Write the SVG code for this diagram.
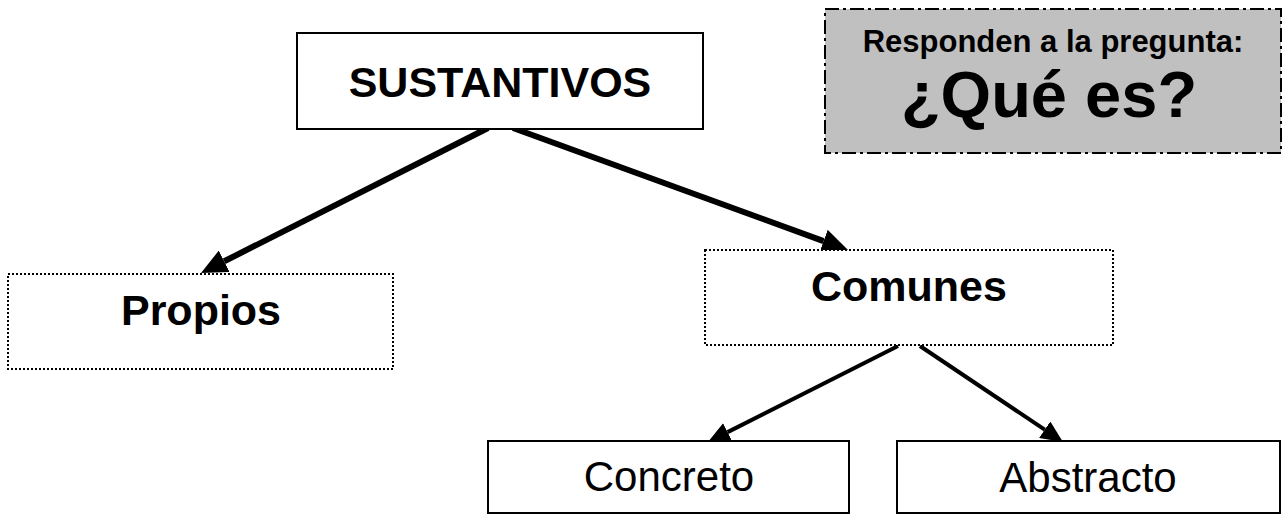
<svg xmlns="http://www.w3.org/2000/svg" width="1288" height="517" viewBox="0 0 1288 517">
<style>
.solid{fill:#fff;stroke:#000;stroke-width:2}
.dotted{fill:#fff;stroke:#000;stroke-width:2;stroke-dasharray:2 2}
.gray{fill:#c0c0c0;stroke:#000;stroke-width:2;stroke-dasharray:14 4 3 4}
.b{font-family:"Liberation Sans",Arial,sans-serif;font-weight:bold;text-anchor:middle;fill:#000}
.r{font-family:"Liberation Sans",Arial,sans-serif;text-anchor:middle;fill:#000}
.thick{stroke:#000;stroke-width:6;fill:none}
.thin{stroke:#000;stroke-width:4;fill:none}
</style>
<defs>
<marker id="headBig" markerUnits="userSpaceOnUse" viewBox="0 -12 26 24" markerWidth="26" markerHeight="24" refX="0" refY="0" orient="auto">
<path d="M0,-12 L26,0 L0,12 z" fill="#000"/>
</marker>
<marker id="headSmall" markerUnits="userSpaceOnUse" viewBox="0 -10 22 20" markerWidth="22" markerHeight="20" refX="0" refY="0" orient="auto">
<path d="M0,-10 L22,0 L0,10 z" fill="#000"/>
</marker>
</defs>
<rect width="1288" height="517" fill="#fff"/>
<g id="connectors">
<line class="thick" x1="488" y1="128" x2="224.2" y2="261.3" marker-end="url(#headBig)"/>
<line class="thick" x1="513" y1="128" x2="823.6" y2="241.1" marker-end="url(#headBig)"/>
<line class="thin" x1="898" y1="346" x2="727.6" y2="432.1" marker-end="url(#headSmall)"/>
<line class="thin" x1="920" y1="346" x2="1044.7" y2="429.7" marker-end="url(#headSmall)"/>
</g>
<g id="sustantivos">
<rect class="solid" x="297" y="33" width="406" height="96"/>
<text class="b" x="500" y="97" font-size="43">SUSTANTIVOS</text>
</g>
<g id="pregunta">
<rect class="gray" x="825" y="9" width="456" height="144"/>
<text class="b" x="1053" y="52" font-size="31">Responden a la pregunta:</text>
<text class="b" x="1049" y="117" font-size="65">¿Qué es?</text>
</g>
<g id="propios">
<rect class="dotted" x="8" y="274" width="385" height="95"/>
<text class="b" x="201" y="325" font-size="43">Propios</text>
</g>
<g id="comunes">
<rect class="dotted" x="705" y="250" width="408" height="95"/>
<text class="b" x="909" y="301" font-size="43">Comunes</text>
</g>
<g id="concreto">
<rect class="solid" x="488" y="441" width="361" height="72"/>
<text class="r" x="669" y="491" font-size="42">Concreto</text>
</g>
<g id="abstracto">
<rect class="solid" x="897" y="441" width="383" height="72"/>
<text class="r" x="1088" y="492" font-size="42">Abstracto</text>
</g>
</svg>
